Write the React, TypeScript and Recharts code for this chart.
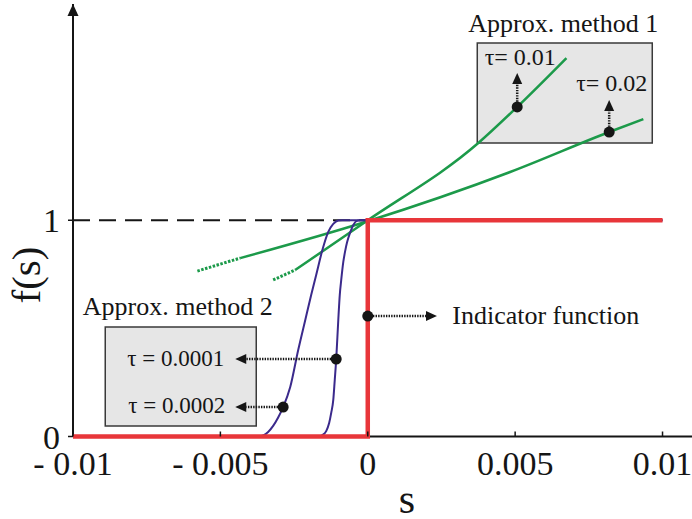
import React from 'react';
import {
  LineChart,
  Line,
  XAxis,
  YAxis,
  ReferenceArea,
  ReferenceLine,
  ReferenceDot,
  Label,
} from 'recharts';

const FONT = '"Liberation Serif", "Times New Roman", Times, serif';
const INK = '#151515';
const RED = '#e8363a';
const GREEN = '#1c9a4a';
const PURPLE = '#3b2a8c';

// axis ticks and their printed labels
const sTicks = [-0.01, -0.005, 0, 0.005, 0.01];
const sTickLabels = ['- 0.01', '- 0.005', '0', '0.005', '0.01'];
const fTicks = [0, 1];

// indicator function: step from 0 to 1 at s = 0
const indicatorS = [-0.01, 0, 0, 0.01];
const indicatorF = [0, 0, 1, 1];

// level f = 1 on the negative side
const levelS = [-0.01, 0];
const levelF = [1, 1];

// approximation method 1, tau = 0.01
const m1Tau1S = [-0.00246, -0.000085, 0.00375, 0.00507, 0.00674];
const m1Tau1F = [0.77, 0.992, 1.357, 1.524, 1.75];
const m1Tau1TailS = [-0.00321, -0.00246];
const m1Tau1TailF = [0.724, 0.77];

// approximation method 1, tau = 0.02
const m1Tau2S = [-0.00433, -0.000085, 0.00483, 0.00819, 0.00935];
const m1Tau2F = [0.825, 0.992, 1.223, 1.408, 1.468];
const m1Tau2TailS = [-0.00578, -0.00433];
const m1Tau2TailF = [0.765, 0.825];

// approximation method 2, tau = 0.0001
const m2Tau1S = [
  -0.01, -0.00168, -0.00154, -0.00141, -0.00131, -0.00124, -0.00117, -0.00112, -0.00107,
  -0.001, -0.00095, -0.0009, -0.00083, -0.00076, -0.0007, -0.00059, -0.00049, -0.00039,
  -0.00025, 0.01,
];
const m2Tau1F = [
  0, 0, 0.007, 0.025, 0.062, 0.109, 0.169, 0.261, 0.358, 0.539, 0.654, 0.724, 0.807, 0.862,
  0.899, 0.946, 0.978, 0.996, 1, 1,
];

// approximation method 2, tau = 0.0002
const m2Tau2S = [
  -0.01, -0.00372, -0.00355, -0.00338, -0.00321, -0.00304, -0.00287, -0.00263, -0.00236,
  -0.00212, -0.00192, -0.00175, -0.00154, -0.00134, -0.00117, -0.001, -0.00087, 0.01,
];
const m2Tau2F = [
  0, 0, 0.005, 0.021, 0.049, 0.088, 0.136, 0.229, 0.4, 0.539, 0.654, 0.747, 0.862, 0.946,
  0.983, 0.999, 1, 1,
];

const zip = (s: number[], f: number[]) => s.map((v, i) => ({ s: v, f: f[i] }));

const indicator = zip(indicatorS, indicatorF);
const level = zip(levelS, levelF);
const m1Tau1 = zip(m1Tau1S, m1Tau1F);
const m1Tau1Tail = zip(m1Tau1TailS, m1Tau1TailF);
const m1Tau2 = zip(m1Tau2S, m1Tau2F);
const m1Tau2Tail = zip(m1Tau2TailS, m1Tau2TailF);
const m2Tau1 = zip(m2Tau1S, m2Tau1F);
const m2Tau2 = zip(m2Tau2S, m2Tau2F);

// marker points on the curves that the callouts point from
const dotTau1 = { s: m1Tau1S[3], f: m1Tau1F[3] };
const dotTau2 = { s: m1Tau2S[3], f: m1Tau2F[3] };
const dotM2Tau1 = { s: m2Tau1S[8], f: m2Tau1F[8] };
const dotM2Tau2 = { s: m2Tau2S[6], f: m2Tau2F[6] };
const dotIndicator = { s: 0, f: 0.557 };

function STick(props: any) {
  const { x, y, payload } = props;
  const i = sTicks.indexOf(payload.value);
  return (
    <g>
      <line x1={x} y1={y - 5} x2={x} y2={y} stroke={INK} strokeWidth={1.5} />
      <text x={x} y={y + 38.5} textAnchor="middle" fontSize={34} fontFamily={FONT} fill={INK}>
        {i >= 0 ? sTickLabels[i] : payload.value}
      </text>
    </g>
  );
}

function DottedArrow(props: any) {
  const { x1, y1, x2, y2 } = props;
  const dx = x2 - x1;
  const dy = y2 - y1;
  const len = Math.hypot(dx, dy) || 1;
  const ux = dx / len;
  const uy = dy / len;
  const head = 11;
  const half = 5;
  const bx = x2 - ux * head;
  const by = y2 - uy * head;
  const px = -uy;
  const py = ux;
  return (
    <g>
      <line x1={x1} y1={y1} x2={bx} y2={by} stroke={INK} strokeWidth={2.5} strokeDasharray="1.4 1.2" />
      <polygon
        points={`${x2},${y2} ${bx + px * half},${by + py * half} ${bx - px * half},${by - py * half}`}
        fill={INK}
      />
    </g>
  );
}

const textAt = (text: string, anchor: 'start' | 'middle', size: number) => (p: any) => (
  <text x={p.cx} y={p.cy} textAnchor={anchor} fontSize={size} fontFamily={FONT} fill={INK}>
    {text}
  </text>
);

const AxisArrowUp = (p: any) => (
  <polygon points={`${p.cx},${p.cy} ${p.cx - 5.5},${p.cy + 12} ${p.cx + 5.5},${p.cy + 12}`} fill={INK} />
);

export default function App() {
  return (
    <div style={{ position: 'absolute', left: 0, top: 0, width: 692, height: 519, background: '#fff' }}>
      <LineChart width={692} height={519} margin={{ top: 4, right: 0, bottom: 0, left: 0 }}>
        <XAxis
          dataKey="s"
          type="number"
          domain={[-0.01, 0.011]}
          ticks={sTicks}
          interval={0}
          height={82.5}
          tickSize={0}
          tickMargin={0}
          tickLine={false}
          tick={<STick />}
          axisLine={{ stroke: INK, strokeWidth: 2 }}
        >
          <Label
            content={(p: any) => (
              <text
                x={p.viewBox.x + 334}
                y={p.viewBox.y + 76.5}
                textAnchor="middle"
                fontSize={42}
                fontFamily={FONT}
                fill={INK}
              >
                s
              </text>
            )}
          />
        </XAxis>
        <YAxis
          dataKey="f"
          type="number"
          domain={[0, 2]}
          ticks={fTicks}
          width={73}
          tickSize={5}
          tickMargin={8}
          tick={{ fontSize: 34, fontFamily: FONT, fill: INK }}
          tickLine={{ stroke: INK, strokeWidth: 1.5 }}
          axisLine={{ stroke: INK, strokeWidth: 2 }}
        >
          <Label
            content={() => (
              <text
                x={40}
                y={275}
                transform="rotate(-90 40 275)"
                textAnchor="middle"
                fontSize={41}
                fontFamily={FONT}
                fill={INK}
              >
                f(s)
              </text>
            )}
          />
        </YAxis>

        {/* callout boxes */}
        <ReferenceArea
          x1={0.003715}
          x2={0.009652}
          y1={1.357}
          y2={1.82}
          fill="#e6e6e6"
          fillOpacity={1}
          stroke="#3a3a3a"
          strokeWidth={1.5}
          ifOverflow="visible"
        />
        <ReferenceArea
          x1={-0.008906}
          x2={-0.003783}
          y1={0.0486}
          y2={0.506}
          fill="#e6e6e6"
          fillOpacity={1}
          stroke="#3a3a3a"
          strokeWidth={1.5}
          ifOverflow="visible"
        />

        <Line
          data={level}
          dataKey="f"
          type="linear"
          stroke={INK}
          strokeWidth={2}
          strokeDasharray="17 9"
          dot={false}
          activeDot={false}
          isAnimationActive={false}
        />
        <Line data={m1Tau1Tail} dataKey="f" type="linear" stroke={GREEN} strokeWidth={3} strokeDasharray="2.5 1.5" dot={false} activeDot={false} isAnimationActive={false} />
        <Line data={m1Tau2Tail} dataKey="f" type="linear" stroke={GREEN} strokeWidth={3} strokeDasharray="2.5 1.5" dot={false} activeDot={false} isAnimationActive={false} />
        <Line data={m1Tau1} dataKey="f" type="monotone" stroke={GREEN} strokeWidth={2.5} dot={false} activeDot={false} isAnimationActive={false} />
        <Line data={m1Tau2} dataKey="f" type="monotone" stroke={GREEN} strokeWidth={2.5} dot={false} activeDot={false} isAnimationActive={false} />
        <Line data={m2Tau1} dataKey="f" type="monotone" stroke={PURPLE} strokeWidth={2} dot={false} activeDot={false} isAnimationActive={false} />
        <Line data={m2Tau2} dataKey="f" type="monotone" stroke={PURPLE} strokeWidth={2} dot={false} activeDot={false} isAnimationActive={false} />
        <Line
          data={indicator}
          dataKey="f"
          type="linear"
          stroke={RED}
          strokeWidth={4.5}
          dot={false}
          activeDot={false}
          isAnimationActive={false}
          {...({ zIndex: 550 } as any)}
        />

        {/* y-axis arrow head */}
        <ReferenceDot x={-0.01} y={2} r={6} shape={AxisArrowUp} ifOverflow="visible" />

        {/* callout arrows */}
        <ReferenceLine segment={[{ x: dotTau1.s, y: dotTau1.f }, { x: dotTau1.s, y: 1.681 }]} shape={DottedArrow} ifOverflow="visible" />
        <ReferenceLine segment={[{ x: dotTau2.s, y: dotTau2.f }, { x: dotTau2.s, y: 1.556 }]} shape={DottedArrow} ifOverflow="visible" />
        <ReferenceLine segment={[{ x: dotM2Tau1.s, y: dotM2Tau1.f }, { x: -0.004495, y: dotM2Tau1.f }]} shape={DottedArrow} ifOverflow="visible" />
        <ReferenceLine segment={[{ x: dotM2Tau2.s, y: dotM2Tau2.f }, { x: -0.004495, y: dotM2Tau2.f }]} shape={DottedArrow} ifOverflow="visible" />
        <ReferenceLine segment={[{ x: dotIndicator.s, y: dotIndicator.f }, { x: 0.002348, y: dotIndicator.f }]} shape={DottedArrow} ifOverflow="visible" />

        {/* marker dots */}
        <ReferenceDot x={dotTau1.s} y={dotTau1.f} r={5.5} fill={INK} stroke="none" ifOverflow="visible" />
        <ReferenceDot x={dotTau2.s} y={dotTau2.f} r={5.5} fill={INK} stroke="none" ifOverflow="visible" />
        <ReferenceDot x={dotM2Tau1.s} y={dotM2Tau1.f} r={5.5} fill={INK} stroke="none" ifOverflow="visible" />
        <ReferenceDot x={dotM2Tau2.s} y={dotM2Tau2.f} r={5.5} fill={INK} stroke="none" ifOverflow="visible" />
        <ReferenceDot x={dotIndicator.s} y={dotIndicator.f} r={5.5} fill={INK} stroke="none" ifOverflow="visible" />

        {/* text annotations */}
        <ReferenceDot x={0.006632} y={1.871} r={1} shape={textAt('Approx. method 1', 'middle', 26)} ifOverflow="visible" />
        <ReferenceDot x={0.005174} y={1.718} r={1} shape={textAt('τ= 0.01', 'middle', 24)} ifOverflow="visible" />
        <ReferenceDot x={0.008278} y={1.598} r={1} shape={textAt('τ= 0.02', 'middle', 24)} ifOverflow="visible" />
        <ReferenceDot x={-0.006446} y={0.562} r={1} shape={textAt('Approx. method 2', 'middle', 26)} ifOverflow="visible" />
        <ReferenceDot x={-0.006514} y={0.326} r={1} shape={textAt('τ = 0.0001', 'middle', 23)} ifOverflow="visible" />
        <ReferenceDot x={-0.00648} y={0.109} r={1} shape={textAt('τ = 0.0002', 'middle', 23)} ifOverflow="visible" />
        <ReferenceDot x={0.002867} y={0.52} r={1} shape={textAt('Indicator function', 'start', 26)} ifOverflow="visible" />
      </LineChart>
    </div>
  );
}
